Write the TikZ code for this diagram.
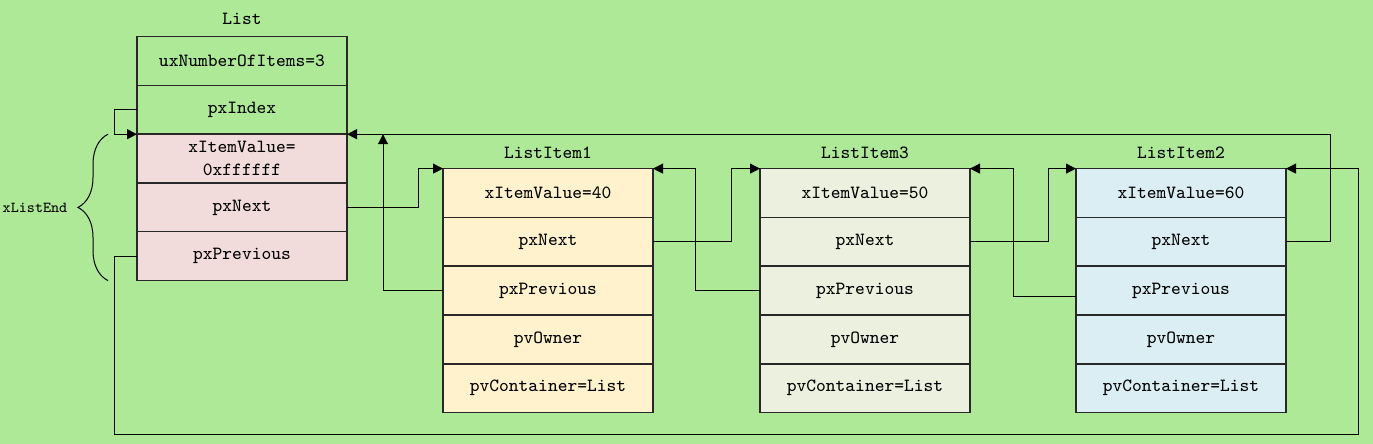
\documentclass[tikz,border=0pt]{standalone}
\usepackage{tikz}
\usetikzlibrary{positioning, arrows.meta, decorations.pathreplacing}
\definecolor{bggreen}{RGB}{174,233,152}
\definecolor{endpink}{RGB}{242,220,219}
\definecolor{itemyellow}{RGB}{255,242,204}
\definecolor{itemolive}{RGB}{235,241,222}
\definecolor{itemblue}{RGB}{218,238,243}
\definecolor{boxline}{RGB}{40,40,40}
\tikzstyle{field} = [draw=boxline, line width=0.7pt, minimum width=105pt, minimum height=24.4pt, inner sep=0pt, outer sep=0pt, align=center, font=\fontsize{9.3}{11.5}\selectfont\ttfamily]
\tikzstyle{title} = [font=\fontsize{9.3}{11.5}\selectfont\ttfamily]
\tikzstyle{link} = [draw, line width=0.5pt, -{Triangle[length=5pt, width=5pt]}]

\begin{document}
\begin{tikzpicture}[x=0.5pt, y=-0.5pt]
\useasboundingbox[fill=bggreen] (0,0) rectangle (1373,444);

%% List
\node[title] (ltitle) at (242, 19) {List};
\node[field] (lnum) at (242, 61) {uxNumberOfItems=3};
\node[field, below=0pt of lnum] (lidx) {pxIndex};
\node[field, fill=endpink, below=0pt of lidx] (lval) {xItemValue=\\0xffffff};
\node[field, fill=endpink, below=0pt of lval] (lnext) {pxNext};
\node[field, fill=endpink, below=0pt of lnext] (lprev) {pxPrevious};
\draw[decorate, decoration={brace, amplitude=15pt}, line width=0.5pt]
    ([xshift=-14.5pt]lprev.south west) -- ([xshift=-14.5pt]lval.north west);
\node[font=\fontsize{7.6}{9}\selectfont\ttfamily] (endlabel) at (35, 208) {xListEnd};

%% ListItem1
\node[title] (i1title) at (548, 153) {ListItem1};
\node[field, fill=itemyellow] (i1val) at (548, 193) {xItemValue=40};
\node[field, fill=itemyellow, below=0pt of i1val] (i1next) {pxNext};
\node[field, fill=itemyellow, below=0pt of i1next] (i1prev) {pxPrevious};
\node[field, fill=itemyellow, below=0pt of i1prev] (i1own) {pvOwner};
\node[field, fill=itemyellow, below=0pt of i1own] (i1cont) {pvContainer=List};

%% ListItem3
\begin{scope}[shift={(317, 0)}]
\node[title] (i3title) at (548, 153) {ListItem3};
\node[field, fill=itemolive] (i3val) at (548, 193) {xItemValue=50};
\node[field, fill=itemolive, below=0pt of i3val] (i3next) {pxNext};
\node[field, fill=itemolive, below=0pt of i3next] (i3prev) {pxPrevious};
\node[field, fill=itemolive, below=0pt of i3prev] (i3own) {pvOwner};
\node[field, fill=itemolive, below=0pt of i3own] (i3cont) {pvContainer=List};
\end{scope}

%% ListItem2
\begin{scope}[shift={(633, 0)}]
\node[title] (i2title) at (548, 153) {ListItem2};
\node[field, fill=itemblue] (i2val) at (548, 193) {xItemValue=60};
\node[field, fill=itemblue, below=0pt of i2val] (i2next) {pxNext};
\node[field, fill=itemblue, below=0pt of i2next] (i2prev) {pxPrevious};
\node[field, fill=itemblue, below=0pt of i2prev] (i2own) {pvOwner};
\node[field, fill=itemblue, below=0pt of i2own] (i2cont) {pvContainer=List};
\end{scope}

%% next pointers
\draw[link] (lidx.west) -- ++(-23, 0) |- (lval.north west);
\draw[link] (lnext.east) -- ++(71, 0) |- (i1val.north west);
\draw[link] (i1next.east) -- ++(78, 0) |- (i3val.north west);
\draw[link] (i3next.east) -- ++(78, 0) |- (i2val.north west);
\draw[link] (i2next.east) -- ++(44, 0) |- (lval.north east);

%% previous pointers
\draw[link] (i1prev.west) -- ++(-60, 0) coordinate (i1up) -- (i1up |- lval.north);
\draw[link] (i3prev.west) -- ++(-65, 0) |- (i1val.north east);
\draw[link] ([yshift=-3pt]i2prev.west) -- ++(-63, 0) |- (i3val.north east);
\draw[link] (lprev.west) -- ++(-23, 0) -- ++(0, 178) -- ++(1244, 0) |- (i2val.north east);
\end{tikzpicture}
\end{document}
